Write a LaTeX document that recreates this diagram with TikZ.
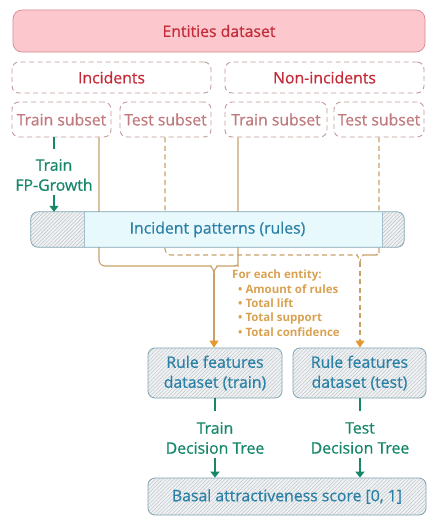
\documentclass[tikz,border=0pt]{standalone}
\usepackage{fontspec}
\setmainfont{Open Sans}[UprightFeatures={FakeBold=0.6}]
\usetikzlibrary{patterns.meta,arrows.meta,calc}
\definecolor{entfill}{HTML}{FCC8CD}
\definecolor{entdraw}{HTML}{D48990}
\definecolor{enttext}{HTML}{C42A38}
\definecolor{dashdraw}{HTML}{C49A9A}
\definecolor{subtext}{HTML}{C07A7E}
\definecolor{bluetext}{HTML}{2A80A6}
\definecolor{bluedraw}{HTML}{7FA3B3}
\definecolor{cyanfill}{HTML}{EAF8FC}
\definecolor{grayfill}{HTML}{EEF2F4}
\definecolor{greenc}{HTML}{17876A}
\definecolor{orangec}{HTML}{E4982F}
\definecolor{tanc}{HTML}{C9A06C}
\definecolor{orangetext}{HTML}{D9A253}
\pgfdeclarelayer{background}
\pgfsetlayers{background,main}
\tikzset{
  mainfont/.style={font=\fontsize{15.8}{20}\selectfont},
  entbox/.style={draw=entdraw, fill=entfill, rounded corners=9pt, line width=0.7pt, text=enttext, mainfont, inner sep=0pt},
  dashbox/.style={draw=dashdraw, dash pattern=on 5pt off 3.5pt, rounded corners=7pt, line width=0.9pt, mainfont, inner sep=0pt},
  hatchbox/.style={draw=bluedraw, rounded corners=7pt, line width=0.8pt, text=bluetext, mainfont, align=center, inner sep=0pt,
    preaction={fill=grayfill}, pattern={Lines[angle=45,distance=2.6pt,line width=0.35pt]}, pattern color=gray!55},
  greentxt/.style={text=greenc, mainfont, align=center, inner sep=0pt},
  greenline/.style={draw=greenc, line width=2pt},
  greenarrow/.style={draw=greenc, line width=2pt, -{Triangle[length=6pt,width=9pt]}},
  brace/.style={draw=tanc, line width=1.1pt},
  dbrace/.style={draw=tanc, line width=1.1pt, dash pattern=on 5pt off 3.5pt},
  orangearrow/.style={draw=tanc, line width=1.1pt, -{Triangle[length=7pt,width=9pt,color=orangec]}},
}
\begin{document}
\begin{tikzpicture}[x=1pt,y=-1pt]
\useasboundingbox (0,0) rectangle (436,528);

\node[entbox, minimum width=412pt, minimum height=42pt] (ent) at (219,31) {Entities dataset};
\node[dashbox, minimum width=199pt, minimum height=31pt, text=enttext] (inc) at (111.5,77.5) {Incidents};
\node[dashbox, minimum width=199pt, minimum height=31pt, text=enttext] (non) at (324.5,77.5) {Non-incidents};
\node[dashbox, minimum width=99pt, minimum height=35pt, text=subtext] (tr1) at (61.5,119.5) {Train subset};
\node[dashbox, minimum width=91pt, minimum height=35pt, text=subtext] (te1) at (165.5,119.5) {Test subset};
\node[dashbox, minimum width=102pt, minimum height=35pt, text=subtext] (tr2) at (276,119.5) {Train subset};
\node[dashbox, minimum width=90pt, minimum height=35pt, text=subtext] (te2) at (379,119.5) {Test subset};

% incident patterns box
\node[minimum width=373pt, minimum height=35pt, inner sep=0pt] (ip) at (217.5,229.5) {};
\path[rounded corners=7pt, fill=cyanfill] (ip.north west) rectangle (ip.south east);
\begin{scope}
  \clip[rounded corners=7pt] (ip.north west) rectangle (ip.south east);
  \path[pattern={Lines[angle=45,distance=2.6pt,line width=0.35pt]}, pattern color=cyan!12] (ip.north west) rectangle (ip.south east);
  \path[fill=grayfill] (ip.north west) rectangle (84,247);
  \path[pattern={Lines[angle=45,distance=2.6pt,line width=0.35pt]}, pattern color=gray!60] (ip.north west) rectangle (84,247);
  \path[fill=grayfill] (382,212) rectangle (ip.south east);
  \path[pattern={Lines[angle=45,distance=2.6pt,line width=0.35pt]}, pattern color=gray!60] (382,212) rectangle (ip.south east);
  \draw[bluedraw!70, line width=0.5pt] (84,212) -- (84,247) (382,212) -- (382,247);
\end{scope}
\draw[bluedraw, rounded corners=7pt, line width=0.8pt] (ip.north west) rectangle (ip.south east);
\node[text=bluetext, mainfont] (iptxt) at (217.5,229.5) {Incident patterns (rules)};

% FP-growth
\draw[greenline] (tr1.south -| 54,0) -- ++(0,12);
\node[greentxt] (fpg) at (54,175) {Train\\FP-Growth};
\draw[greenarrow] (fpg.south -| 54,0) ++(0,4) -- (ip.north -| 54,0);

% rule feature boxes
\node[hatchbox, minimum width=134pt, minimum height=50pt] (rf1) at (215,373) {Rule features\\dataset (train)};
\node[hatchbox, minimum width=133pt, minimum height=50pt] (rf2) at (359.5,373) {Rule features\\dataset (test)};
\node[hatchbox, minimum width=278pt, minimum height=37pt] (bas) at (287,496.5) {Basal attractiveness score [0, 1]};

% connectors behind
\begin{pgfonlayer}{background}
  \coordinate (ja) at (214,273);
  \coordinate (jb) at (360,262);
  \draw[brace, rounded corners=6pt] (tr1.south -| 99,0) -- (99,266) -- (205,266) to[out=0,in=90] (ja);
  \draw[brace, rounded corners=6pt] (tr2.south -| 238,0) -- (238,260) to[out=-90,in=0] (229,266) -- (223,266) to[out=180,in=90] (ja);
  \draw[dbrace, rounded corners=6pt] (te1.south -| 165,0) -- (165,255) -- (351,255) to[out=0,in=90] (jb);
  \draw[dbrace, rounded corners=6pt] (te2.south -| 379,0) -- (379,249) to[out=-90,in=0] (370,255) -- (369,255) to[out=180,in=90] (jb);
\end{pgfonlayer}
\draw[orangearrow] (ja) -- (rf1.north -| ja);
\draw[orangearrow, dash pattern=on 5pt off 3.5pt] (jb) -- (rf2.north -| jb);

\node[anchor=north west, text=orangetext, inner sep=0pt, align=left, font=\fontsize{11.5}{14.3}\selectfont\bfseries] (fe) at (232,270)
 {For each entity:\\
  \hspace{6pt}\textbullet\ Amount of rules\\
  \hspace{6pt}\textbullet\ Total lift\\
  \hspace{6pt}\textbullet\ Total support\\
  \hspace{6pt}\textbullet\ Total confidence};

% decision trees
\draw[greenline] (rf1.south) -- ++(0,13);
\node[greentxt] (dt1) at (215,438) {Train\\Decision Tree};
\draw[greenarrow] (dt1.south) ++(0,4) -- (bas.north -| dt1);
\draw[greenline] (rf2.south -| 360,0) -- ++(0,13);
\node[greentxt] (dt2) at (360,438) {Test\\Decision Tree};
\draw[greenarrow] (dt2.south) ++(0,4) -- (bas.north -| dt2);
\end{tikzpicture}
\end{document}
